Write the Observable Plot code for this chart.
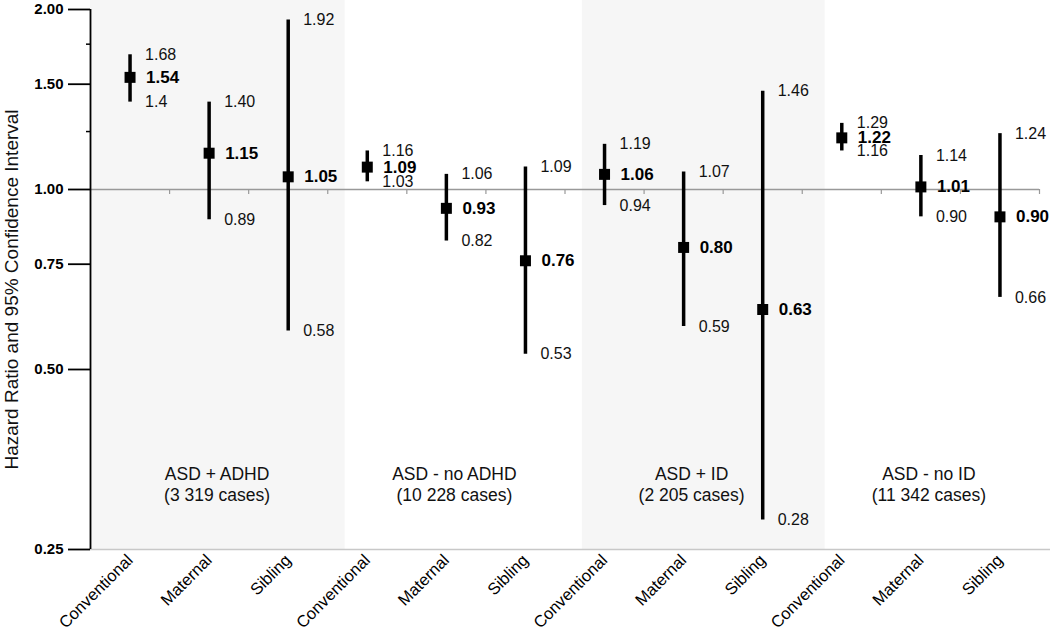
<!DOCTYPE html>
<html><head><meta charset="utf-8">
<script src="https://cdn.jsdelivr.net/npm/d3@7"></script>
<script src="https://cdn.jsdelivr.net/npm/@observablehq/plot@0.6"></script>
<style>body{margin:0;background:#fff;font-family:"Liberation Sans",Arial,sans-serif;}</style>
</head><body><div id="chart"></div>
<script>
const categories = ["Conventional","Maternal","Sibling","Conventional","Maternal","Sibling","Conventional","Maternal","Sibling","Conventional","Maternal","Sibling"];
const groupNames = ["ASD + ADHD","ASD - no ADHD","ASD + ID","ASD - no ID"];
const groupCases = ["(3 319 cases)","(10 228 cases)","(2 205 cases)","(11 342 cases)"];
const hazardRatio = ["1.54","1.15","1.05","1.09","0.93","0.76","1.06","0.80","0.63","1.22","1.01","0.90"];
const lowerCI = ["1.4","0.89","0.58","1.03","0.82","0.53","0.94","0.59","0.28","1.16","0.90","0.66"];
const upperCI = ["1.68","1.40","1.92","1.16","1.06","1.09","1.19","1.07","1.46","1.29","1.14","1.24"];
const yTicks = [0.25, 0.5, 0.75, 1, 1.5, 2];
const yMinorTicks = [1.25, 1.75];
const yTitle = "Hazard Ratio and 95% Confidence Interval";
const bandStart = [-0.5, 5.72];
const bandEnd = [2.72, 8.79];

const rows = categories.map((c, i) => ({i, c, hr: +hazardRatio[i], lo: +lowerCI[i], hi: +upperCI[i],
  hrL: hazardRatio[i], loL: lowerCI[i], hiL: upperCI[i]}));
const groups = groupNames.map((g, k) => ({x: k * 3 + 1, text: g + "\n" + groupCases[k]}));
const bands = bandStart.map((s, k) => ({x1: s, x2: bandEnd[k]}));
const boundaries = d3.range(11).map(k => k + 0.5).concat([11.5]);

const chart = Plot.plot({
  width: 1050, height: 636,
  marginLeft: 90, marginRight: 11, marginTop: 9, marginBottom: 87,
  style: {fontFamily: '"Liberation Sans", Arial, sans-serif', color: "#000", background: "#fff"},
  x: {type: "linear", domain: [-0.5, 11.5], axis: null},
  y: {type: "log", domain: [0.25, 2], axis: null},
  marks: [
    Plot.rect(bands, {x1: "x1", x2: "x2", fill: "#f6f6f6", insetTop: -9}),
    Plot.ruleY([0.25], {stroke: "#c8c8c8", strokeWidth: 1.5, insetRight: -11}),
    Plot.ruleY([1], {stroke: "#999", strokeWidth: 1.5}),
    Plot.ruleX(boundaries, {x: d => d, y1: () => 1, y2: () => 1, insetBottom: -5, stroke: "#999", strokeWidth: 1.2}),
    Plot.axisY({ticks: yMinorTicks, tickSize: 4, tickFormat: () => "", strokeWidth: 1.5, label: null}),
    Plot.axisY({ticks: yTicks, tickSize: 22, tickPadding: 5, tickFormat: d => d.toFixed(2),
      fontSize: 15, fontWeight: "bold", strokeWidth: 1.8, label: null}),
    Plot.text([yTitle], {text: d => d, frameAnchor: "left", textAnchor: "middle", rotate: -90, dx: -79, dy: 10,
      fontSize: 19, fill: "#111", lineAnchor: "middle"}),
    Plot.axisX({ticks: d3.range(12), tickFormat: i => categories[i], tickRotate: -45, tickSize: 0,
      tickPadding: 8, fontSize: 16.5, label: null}),
    Plot.ruleX([-0.5], {stroke: "#000", strokeWidth: 1.8}),
    Plot.ruleX(rows, {x: "i", y1: "lo", y2: "hi", stroke: "#000", strokeWidth: 3.5}),
    Plot.dot(rows, {x: "i", y: "hr", symbol: "square", r: 6.2, fill: "#000", stroke: null}),
    Plot.text(rows, {x: "i", y: "hi", text: "hiL", dx: 15, textAnchor: "start", fontSize: 16, fill: "#111"}),
    Plot.text(rows, {x: "i", y: "lo", text: "loL", dx: 15, textAnchor: "start", fontSize: 16, fill: "#111"}),
    Plot.text(rows, {x: "i", y: "hr", text: "hrL", dx: 16, textAnchor: "start", fontSize: 17, fontWeight: "bold", fill: "#000"}),
    Plot.text(groups, {x: "x", text: "text", frameAnchor: "bottom", dy: -66, lineAnchor: "middle",
      lineHeight: 1.25, fontSize: 17.5, fill: "#111", dx: 8})
  ]
});
document.getElementById("chart").appendChild(chart);
</script></body></html>
